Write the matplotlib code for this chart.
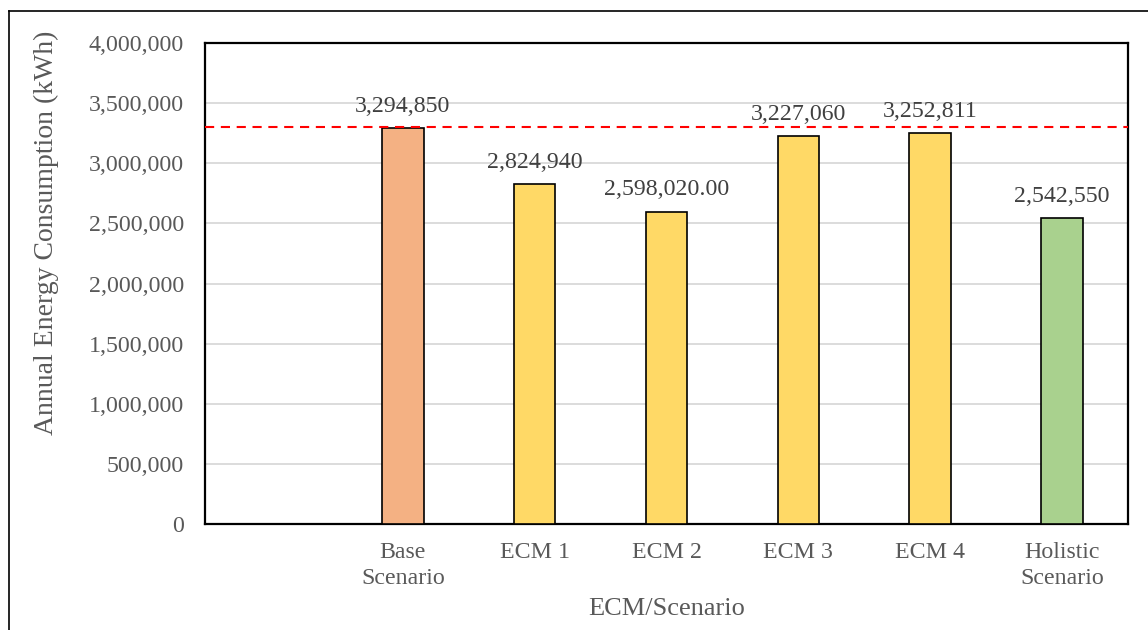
import numpy as np
import matplotlib.pyplot as plt
from matplotlib.lines import Line2D

plt.rcParams['font.family'] = ['Liberation Serif', 'DejaVu Serif']

# categories (first slot is left empty, as in the original sheet)
categories = ["", "Base\nScenario", "ECM 1", "ECM 2", "ECM 3", "ECM 4", "Holistic\nScenario"]
consumption = [np.nan, 3294850, 2824940, 2598020, 3227060, 3252811, 2542550]
value_labels = ["", "3,294,850", "2,824,940", "2,598,020.00", "3,227,060", "3,252,811", "2,542,550"]
bar_colors = ["none", "#F4B183", "#FFD966", "#FFD966", "#FFD966", "#FFD966", "#A9D18E"]
reference_line = 3305000

y_ticks = np.arange(0, 4000001, 500000)

def main():
	fig = plt.figure(figsize=(11.48, 6.3), dpi=100)
	ax = fig.add_axes([0.1786, 0.1683, 0.804, 0.7634])

	ind = np.arange(len(categories))
	heights = [0 if np.isnan(v) else v for v in consumption]
	ax.bar(ind[1:], heights[1:], width=0.315, color=bar_colors[1:],
		edgecolor="black", linewidth=1.2, zorder=3)

	# data labels
	for i in range(1, len(categories)):
		ax.annotate(value_labels[i], (ind[i], heights[i]), xytext=(0, 8),
			textcoords="offset points", ha="center", va="bottom",
			fontsize=17.2, color="#404040")

	ax.axhline(reference_line, color="red", linestyle=(0, (4.4, 3.2)), linewidth=1.5, zorder=4)

	ax.set_xlim(-0.5, len(categories) - 0.5)
	ax.set_ylim(0, 4000000)
	ax.set_yticks(y_ticks)
	ax.set_yticklabels(["{:,}".format(int(t)) for t in y_ticks])
	ax.set_xticks(ind)
	ax.set_xticklabels(categories, linespacing=1.3)
	ax.tick_params(axis="both", length=0, labelsize=17.2, labelcolor="#595959")
	ax.tick_params(axis="y", pad=15)
	ax.tick_params(axis="x", pad=13)
	ax.yaxis.grid(True, color="#D9D9D9", linewidth=1.3, zorder=0)
	ax.set_axisbelow(True)
	for s in ax.spines.values():
		s.set_color("black")
		s.set_linewidth(1.6)

	ax.set_ylabel("Annual Energy Consumption (kWh)", fontsize=20, color="#595959")
	ax.set_xlabel("ECM/Scenario", fontsize=19, color="#595959", labelpad=6.5)
	ax.yaxis.set_label_coords(-0.158, 0.605)

	# outer frame (only top and left edges visible in the crop)
	fig.add_artist(Line2D([9/1148, 9/1148], [0, 1 - 11/630], transform=fig.transFigure,
		color="black", linewidth=1.2))
	fig.add_artist(Line2D([9/1148, 1], [1 - 11/630, 1 - 11/630], transform=fig.transFigure,
		color="black", linewidth=1.2))

	fig.savefig("out.png", dpi=100)

if __name__ == "__main__":
	main()
